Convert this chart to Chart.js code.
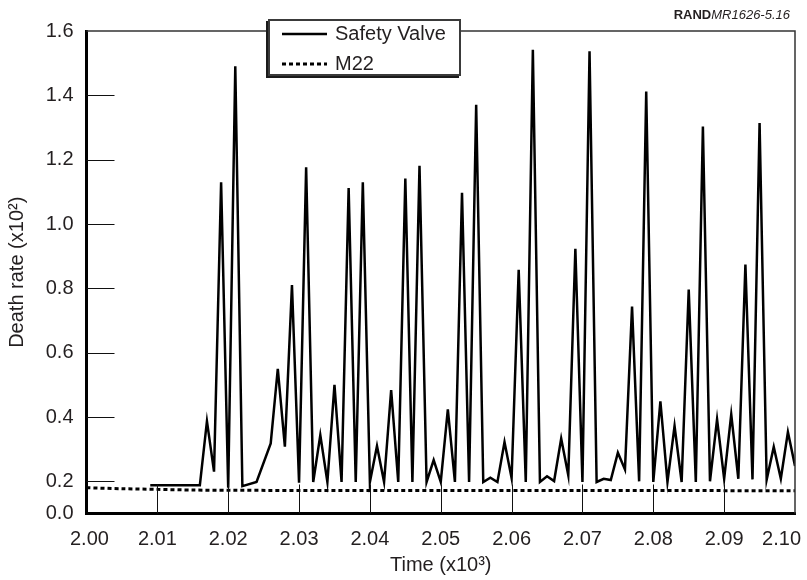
<!DOCTYPE html>
<html>
<head>
<meta charset="utf-8">
<title>Death rate: Safety Valve vs M22</title>
<script src="https://cdn.jsdelivr.net/npm/chart.js@4.4.1/dist/chart.umd.min.js"></script>
<style>
  html, body { margin: 0; padding: 0; background: #fff; }
  #wrap { position: relative; width: 807px; height: 580px; font-family: 'Liberation Sans', Arial, Helvetica, sans-serif; color: #231f20; }
  #chart { position: absolute; left: 0; top: 0; }
  #legend { position: absolute; left: 268px; top: 19px; width: 193px; height: 57px; box-sizing: border-box;
            border: 2px solid #3a3a3a; box-shadow: -2px 2px 0 #1a1a1a; background: #fff; }
  #legend .item { position: absolute; left: 0; width: 100%; height: 28px; }
  #legend svg { position: absolute; left: 12px; top: 9px; }
  #legend span { position: absolute; left: 65px; top: 1.6px; font-size: 20px; line-height: 20px; white-space: nowrap; }
  #credit { position: absolute; right: 17px; top: 8px; font-size: 13px; line-height: 14px; white-space: nowrap; }
  #credit b { font-weight: bold; }
  #credit i { font-style: italic; }
</style>
</head>
<body>
<div id="wrap">
  <canvas id="chart" width="807" height="580"></canvas>
  <div id="legend"></div>
  <div id="credit"><b>RAND</b><i>MR1626-5.16</i></div>
</div>
<script>
// x values are calendar years, axis shows them in units of 10^3
const svYears = [2009, 2016, 2017, 2018, 2019, 2020, 2021, 2022, 2024, 2026, 2027, 2028, 2029, 2030,
  2031, 2032, 2033, 2034, 2035, 2036, 2037, 2038, 2039, 2040, 2041, 2042, 2043, 2044, 2045, 2046,
  2047, 2048, 2049, 2050, 2051, 2052, 2053, 2054, 2055, 2056, 2057, 2058, 2059, 2060, 2061, 2062,
  2063, 2064, 2065, 2066, 2067, 2068, 2069, 2070, 2071, 2072, 2073, 2074, 2075, 2076, 2077, 2078,
  2079, 2080, 2081, 2082, 2083, 2084, 2085, 2086, 2087, 2088, 2089, 2090, 2091, 2092, 2093, 2094,
  2095, 2096, 2097, 2098, 2099, 2100];
const svRates = [0.188, 0.188, 0.387, 0.23, 1.13, 0.18, 1.49, 0.185, 0.198, 0.318, 0.55, 0.308, 0.81, 0.196,
  1.176, 0.198, 0.344, 0.198, 0.50, 0.198, 1.112, 0.198, 1.13, 0.198, 0.31, 0.198, 0.484, 0.198, 1.141, 0.198,
  1.181, 0.198, 0.266, 0.198, 0.424, 0.198, 1.097, 0.198, 1.371, 0.198, 0.211, 0.198, 0.322, 0.21, 0.858, 0.198,
  1.542, 0.198, 0.216, 0.201, 0.333, 0.219, 0.923, 0.198, 1.537, 0.198, 0.208, 0.204, 0.289, 0.237, 0.743, 0.2,
  1.412, 0.198, 0.449, 0.198, 0.372, 0.198, 0.796, 0.198, 1.303, 0.2, 0.393, 0.208, 0.408, 0.208, 0.874, 0.206,
  1.314, 0.205, 0.307, 0.208, 0.353, 0.248];

const m22Years = [2000, 2005, 2010, 2015, 2020, 2100];
const m22Rates = [0.180, 0.177, 0.175, 0.173, 0.172, 0.171];

const seriesNames = ['Safety Valve', 'M22'];

const xTicks = [2000, 2010, 2020, 2030, 2040, 2050, 2060, 2070, 2080, 2090, 2100];
const xTickLabels = ['2.00', '2.01', '2.02', '2.03', '2.04', '2.05', '2.06', '2.07', '2.08', '2.09', '2.10'];
const yTicks = [0.1, 0.2, 0.4, 0.6, 0.8, 1.0, 1.2, 1.4, 1.6];
const yTickLabels = ['0.0', '0.2', '0.4', '0.6', '0.8', '1.0', '1.2', '1.4', '1.6'];

const FONT = "'Liberation Sans', Arial, Helvetica, sans-serif";
const INK = '#231f20';

function toPoints(xs, ys) {
  return xs.map((x, i) => ({ x, y: ys[i] }));
}

// inner tick marks, thin top/right frame and x tick labels
const axisDecor = {
  id: 'axisDecor',
  afterDatasetsDraw(chart) {
    const { ctx, chartArea: a, scales: { x, y } } = chart;
    ctx.save();
    ctx.strokeStyle = '#333';
    ctx.lineWidth = 1.5;
    ctx.beginPath();
    ctx.moveTo(a.left, a.top);
    ctx.lineTo(a.right, a.top);
    ctx.lineTo(a.right, a.bottom);
    ctx.stroke();

    ctx.strokeStyle = '#111';
    ctx.lineWidth = 1;
    ctx.beginPath();
    xTicks.slice(1, -1).forEach(v => {
      const px = Math.round(x.getPixelForValue(v)) + 0.5;
      ctx.moveTo(px, a.bottom);
      ctx.lineTo(px, a.bottom - 29);
    });
    yTicks.slice(1, -1).forEach(v => {
      const py = Math.round(y.getPixelForValue(v)) + 0.5;
      ctx.moveTo(a.left, py);
      ctx.lineTo(a.left + 28, py);
    });
    ctx.stroke();

    ctx.font = `20px ${FONT}`;
    ctx.fillStyle = INK;
    ctx.textAlign = 'center';
    ctx.textBaseline = 'alphabetic';
    xTicks.forEach((v, i) => {
      const w = ctx.measureText(xTickLabels[i]).width;
      const cx = Math.min(Math.max(x.getPixelForValue(v), 70 + w / 2), chart.width - 6 - w / 2);
      ctx.fillText(xTickLabels[i], cx, a.bottom + 31.5);
    });
    ctx.restore();
  }
};

function buildLegend(chart) {
  const box = document.getElementById('legend');
  box.innerHTML = chart.data.datasets.map((ds, i) => `
    <div class="item" style="top:${i * 30}px">
      <svg width="46" height="8"><line x1="0" y1="4" x2="45" y2="4" stroke="${ds.borderColor}"
        stroke-width="${ds.borderWidth}" stroke-dasharray="${(ds.borderDash || []).join(' ')}"/></svg>
      <span>${ds.label}</span>
    </div>`).join('');
}

const chart = new Chart(document.getElementById('chart'), {
  type: 'line',
  data: {
    datasets: [
      {
        label: seriesNames[0],
        data: toPoints(svYears, svRates),
        borderColor: '#000',
        borderWidth: 2.5,
        pointRadius: 0,
        tension: 0
      },
      {
        label: seriesNames[1],
        data: toPoints(m22Years, m22Rates),
        borderColor: '#000',
        borderWidth: 3,
        borderDash: [4, 3],
        pointRadius: 0,
        tension: 0.3
      }
    ]
  },
  options: {
    responsive: false,
    animation: false,
    devicePixelRatio: 1,
    layout: { padding: { left: 0, right: 12, top: 31, bottom: 0 } },
    plugins: { legend: { display: false }, tooltip: { enabled: false } },
    scales: {
      x: {
        type: 'linear',
        min: 2000,
        max: 2100,
        grid: { display: false },
        border: { display: true, color: '#000', width: 3 },
        ticks: { display: false },
        title: {
          display: true,
          text: 'Time (x10³)',
          color: INK,
          font: { family: FONT, size: 20 },
          padding: { top: 0, bottom: 2.5 }
        },
        afterFit: s => { s.height = 66.5; }
      },
      y: {
        type: 'linear',
        min: 0.1,
        max: 1.6,
        grid: { display: false, drawTicks: false },
        border: { display: true, color: '#000', width: 3 },
        afterBuildTicks: s => { s.ticks = yTicks.map(value => ({ value })); },
        ticks: {
          color: INK,
          padding: 13,
          font: { family: FONT, size: 20 },
          callback: (v, i) => yTickLabels[i]
        },
        title: {
          display: true,
          text: 'Death rate (x10²)',
          color: INK,
          font: { family: FONT, size: 20 },
          padding: { top: 5.5, bottom: 0 }
        },
        afterFit: s => { s.width = 86.5; }
      }
    }
  },
  plugins: [axisDecor]
});

buildLegend(chart);
</script>
</body>
</html>
